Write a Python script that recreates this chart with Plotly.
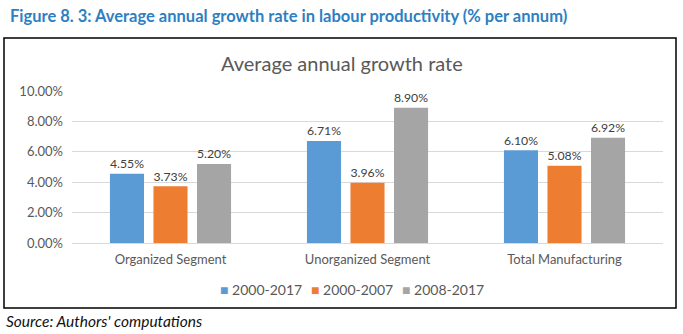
import plotly.graph_objects as go

categories = ["Organized Segment", "Unorganized Segment", "Total Manufacturing"]
series_names = ["2000-2017", "2000-2007", "2008-2017"]
s_2000_2017 = [4.55, 6.71, 6.10]
s_2000_2007 = [3.73, 3.96, 5.08]
s_2008_2017 = [5.20, 8.90, 6.92]
colors = ["#5B9BD5", "#ED7D31", "#A5A5A5"]
y_ticks = [0, 2, 4, 6, 8, 10]

W, H = 683, 334
L, R, T, B = 72, 20, 91, 91
pw, ph = W - L - R, H - T - B

def px(x):
    return (x - L) / pw

def py(y):
    return (H - B - y) / ph

FONT = "Lato"
fig = go.Figure()
for name, vals, c in zip(series_names, [s_2000_2017, s_2000_2007, s_2008_2017], colors):
    fig.add_trace(go.Bar(
        name=name, x=categories, y=vals, marker_color=c, marker_line_width=0,
        texttemplate="%{y:.2f}%", textposition="outside",
        textfont=dict(family=FONT, size=14, color="#404040"), cliponaxis=False,
    ))

fig.update_layout(
    width=W, height=H, margin=dict(l=L, r=R, t=T, b=B),
    paper_bgcolor="white", plot_bgcolor="white",
    barmode="group", bargap=0.337, bargroupgap=0.218,
    font=dict(family=FONT, color="#595959"),
    xaxis=dict(showgrid=False, showline=True, linecolor="#D9D9D9", linewidth=1,
               ticks="", tickfont=dict(size=13, color="#595959"), ticklabelstandoff=4),
    yaxis=dict(range=[0, 10], tickvals=y_ticks, ticktext=[f"{v:.2f}%" for v in y_ticks],
               showgrid=True, gridcolor="#D9D9D9", gridwidth=1, zeroline=False,
               ticks="", tickfont=dict(size=13, color="#595959"), ticklabelstandoff=8),
    showlegend=False,
)

# legend drawn as text items
legend_x = [218, 309, 400]
for name, c, lx in zip(series_names, colors, legend_x):
    fig.add_annotation(text=f"<span style='color:{c}'>■</span> {name}", xref="paper", yref="paper",
                       x=px(lx), y=py(289), xanchor="left", yanchor="middle", showarrow=False,
                       font=dict(family=FONT, size=14, color="#595959"))

fig.add_annotation(text="Average annual growth rate", xref="paper", yref="paper",
                   x=px(342), y=py(63), yanchor="middle", showarrow=False,
                   font=dict(family=FONT, size=20, color="#595959"))
fig.add_annotation(text="<b>Figure 8. 3: Average annual growth rate in labour productivity (% per annum)</b>",
                   xref="paper", yref="paper", x=px(8), y=py(16), xanchor="left", yanchor="middle",
                   showarrow=False, font=dict(family=FONT, size=16.5, color="#2E7FC2"))
fig.add_annotation(text="<i>Source: Authors' computations</i>", xref="paper", yref="paper",
                   x=px(4), y=py(321), xanchor="left", yanchor="middle", showarrow=False,
                   font=dict(family=FONT, size=15.5, color="#111111"))
fig.add_shape(type="rect", xref="paper", yref="paper", x0=px(4), x1=px(676),
              y0=py(38), y1=py(308), line=dict(color="black", width=1.5))

fig.write_html("out.html")
